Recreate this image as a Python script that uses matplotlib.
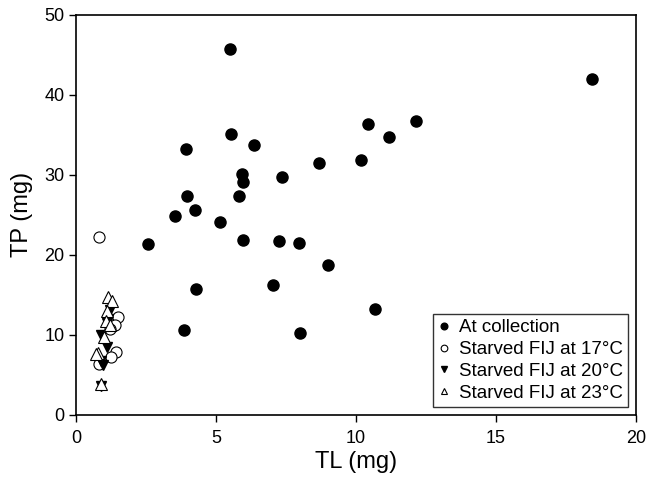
import matplotlib
matplotlib.use('Agg')
import matplotlib.pyplot as plt

plt.rcParams['font.family'] = ['Liberation Sans', 'DejaVu Sans']

# At collection
coll_tl = [5.48, 18.44, 10.44, 12.13, 11.18, 5.52, 6.34, 3.92, 8.68, 10.17,
           5.91, 5.95, 7.34, 3.96, 5.80, 4.23, 3.52, 5.13, 2.57, 5.96,
           7.26, 7.97, 9.01, 7.02, 4.28, 10.66, 3.85, 8.01]
coll_tp = [45.7, 42.0, 36.4, 36.8, 34.8, 35.1, 33.8, 33.25, 31.5, 31.9,
           30.1, 29.1, 29.7, 27.4, 27.4, 25.6, 24.9, 24.1, 21.4, 21.9,
           21.8, 21.5, 18.7, 16.2, 15.75, 13.2, 10.6, 10.2]

# starved FIJ at 17 C
s17_tl = [0.82, 1.51, 1.40, 1.19, 1.43, 1.25, 0.82]
s17_tp = [22.3, 12.3, 11.3, 10.7, 7.9, 7.3, 6.4]

# starved FIJ at 20 C
s20_tl = [1.19, 1.09, 0.90, 1.09, 0.90, 0.95, 0.87, 1.15]
s20_tp = [13.1, 11.5, 10.0, 8.5, 6.8, 6.3, 3.6, 12.0]

# starved FIJ at 23 C
s23_tl = [1.13, 1.28, 1.09, 1.05, 0.98, 0.79, 0.69, 0.87, 1.20]
s23_tp = [14.7, 14.2, 13.0, 11.8, 9.8, 7.7, 7.6, 3.9, 11.2]

fig = plt.figure(figsize=(6.57, 4.83), dpi=100)
ax = fig.add_axes([0.116, 0.141, 0.852, 0.828])

ax.plot(coll_tl, coll_tp, 'o', ms=8, mfc='black', mec='black', ls='none', label='At collection')
ax.plot(s17_tl, s17_tp, 'o', ms=8, mfc='white', mec='black', mew=0.8, ls='none', label='Starved FIJ at 17°C')
ax.plot(s20_tl, s20_tp, 'v', ms=7.5, mfc='black', mec='black', ls='none', label='Starved FIJ at 20°C')
ax.plot(s23_tl, s23_tp, '^', ms=8, mfc='white', mec='black', mew=0.8, ls='none', label='Starved FIJ at 23°C')

ax.set_xlim(0, 20)
ax.set_ylim(0, 50)
ax.set_xticks([0, 5, 10, 15, 20])
ax.set_yticks([0, 10, 20, 30, 40, 50])
ax.tick_params(direction='out', length=5, width=1, labelsize=13)
ax.tick_params(axis='x', pad=6)
ax.tick_params(top=False, right=False)
for s in ax.spines.values():
    s.set_linewidth(1.2)
ax.set_xlabel('TL (mg)', fontsize=17, labelpad=3)
ax.set_ylabel('TP (mg)', fontsize=17, labelpad=8)

leg = ax.legend(loc='lower right', fontsize=13.5, markerscale=0.6, handlelength=0.6,
                handletextpad=0.5, labelspacing=0.25, borderpad=0.3,
                borderaxespad=0.4, fancybox=False, frameon=True)
leg.get_frame().set_edgecolor('black')
leg.get_frame().set_linewidth(1.0)

plt.savefig('out.png', dpi=100)
